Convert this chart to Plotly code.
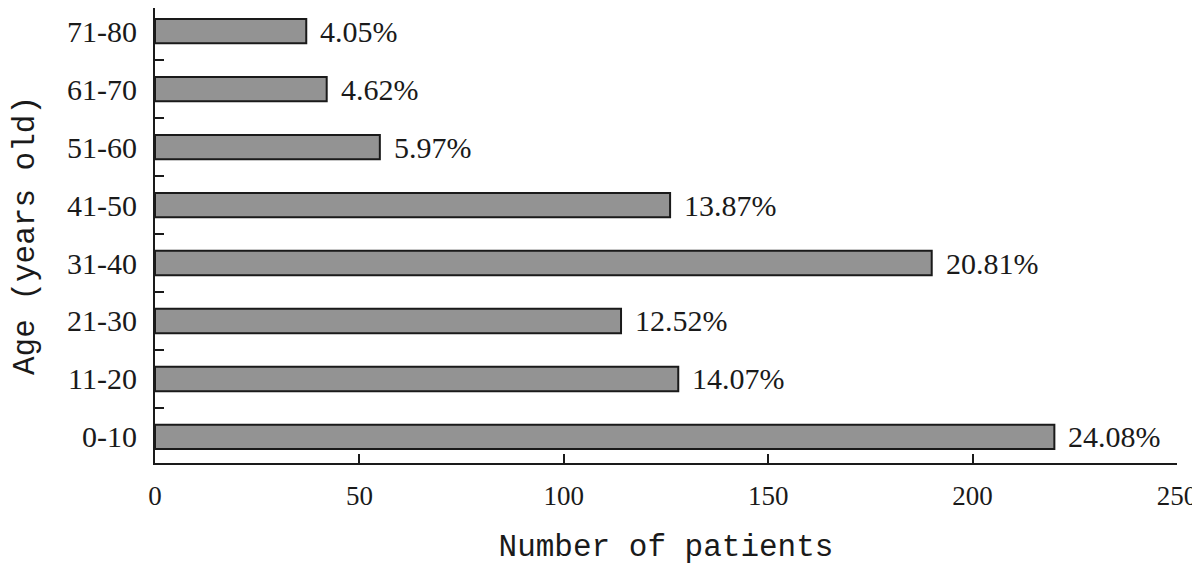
import plotly.graph_objects as go

# age groups, bottom to top
age_groups = ["0-10", "11-20", "21-30", "31-40", "41-50", "51-60", "61-70", "71-80"]
patients = [220, 128, 114, 190, 126, 55, 42, 37]
shares = ["24.08%", "14.07%", "12.52%", "20.81%", "13.87%", "5.97%", "4.62%", "4.05%"]

x_ticks = [0, 50, 100, 150, 200, 250]

serif = "Liberation Serif"
mono = "Liberation Mono"

fig = go.Figure()

fig.add_trace(go.Bar(
    x=patients,
    y=age_groups,
    orientation="h",
    width=0.42,
    marker=dict(color="#939393", line=dict(color="#1a1a1a", width=2)),
    hoverinfo="x+y",
))

# percentage labels to the right of each bar
for val, grp, lab in zip(patients, age_groups, shares):
    fig.add_annotation(
        x=val, y=grp, text=lab,
        xanchor="left", yanchor="middle", xshift=12,
        showarrow=False,
        font=dict(family=serif, size=30, color="#1a1a1a"),
    )

fig.update_xaxes(
    range=[0, 250],
    tickvals=x_ticks,
    ticks="inside",
    ticklen=9,
    tickwidth=2,
    tickcolor="#1a1a1a",
    showline=True,
    linewidth=2,
    linecolor="#1a1a1a",
    showgrid=False,
    zeroline=False,
    automargin=False,
    ticklabelstandoff=8,
    tickfont=dict(family=serif, size=27, color="#1a1a1a"),
    title=dict(text="Number of patients", font=dict(family=mono, size=31, color="#1a1a1a"), standoff=24),
)

fig.update_yaxes(
    type="category",
    range=[-0.45, 7.4],
    tickson="boundaries",
    ticks="inside",
    ticklen=9,
    tickwidth=2,
    tickcolor="#1a1a1a",
    showline=True,
    linewidth=2,
    linecolor="#1a1a1a",
    showgrid=False,
    automargin=False,
    ticklabelstandoff=10,
    tickfont=dict(family=serif, size=30, color="#1a1a1a"),
    title=dict(text="Age (years old)", font=dict(family=mono, size=31, color="#1a1a1a"), standoff=48),
)

# page body adds an 8px offset, so margins are shifted to compensate
fig.update_layout(
    width=1200,
    height=563,
    margin=dict(l=147, r=31, t=0, b=108),
    plot_bgcolor="white",
    paper_bgcolor="white",
    showlegend=False,
)

fig.write_html("out.html")
